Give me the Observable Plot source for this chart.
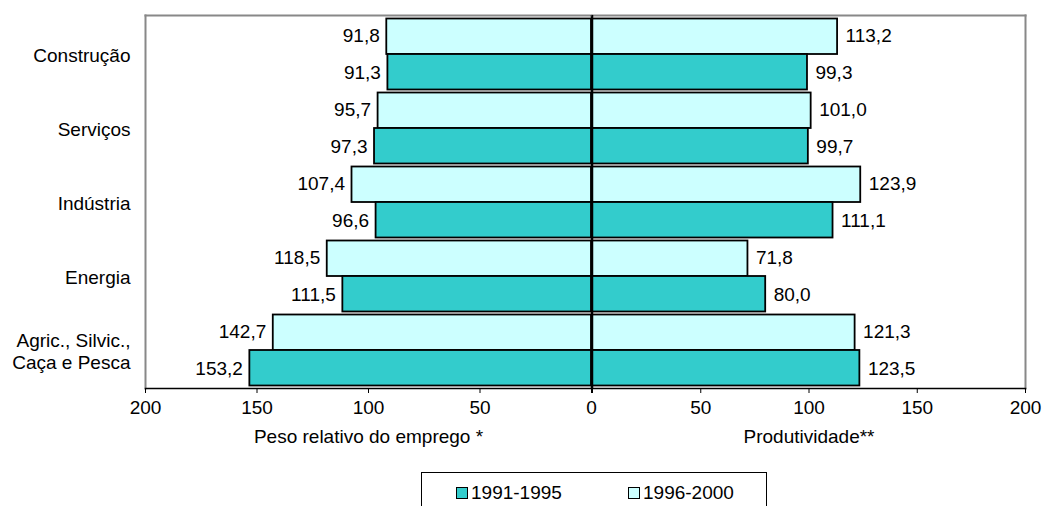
<!DOCTYPE html>
<html>
<head>
<meta charset="utf-8">
<script src="https://cdn.jsdelivr.net/npm/d3@7"></script>
<script src="https://cdn.jsdelivr.net/npm/@observablehq/plot@0.6"></script>
<style>
  body { margin: 0; background: #fff; font-family: "Liberation Sans", Arial, sans-serif; }
  #wrap { position: relative; width: 1042px; height: 506px; overflow: hidden; background: #fff; }
  #wrap svg { position: absolute; top: 0; overflow: visible; }
  .legend { position: absolute; left: 421px; top: 472px; width: 346px; height: 44px;
            border: 1px solid #000; box-sizing: border-box; font-size: 19px; color: #000; }
  .item { position: absolute; top: 9px; display: flex; align-items: center; }
  .sw { width: 10px; height: 10px; border: 1.5px solid #000; margin-right: 3px; }
</style>
</head>
<body>
<div id="wrap"></div>
<script>
const categories = ["Construção", "Serviços", "Indústria", "Energia", "Agric., Silvic.,\nCaça e Pesca"];
const emprego1991 = [91.3, 97.3, 96.6, 111.5, 153.2];
const emprego1996 = [91.8, 95.7, 107.4, 118.5, 142.7];
const prod1991 = [99.3, 99.7, 111.1, 80.0, 123.5];
const prod1996 = [113.2, 101.0, 123.9, 71.8, 121.3];
const xTicks = [0, 50, 100, 150, 200];
const colors = {"1991-1995": "#33CCCC", "1996-2000": "#CCFFFF"};

const rows = [];
categories.forEach((c, i) => {
  rows.push({cat: c, period: "1996-2000", key: c + "|1996-2000", emp: emprego1996[i], prod: prod1996[i]});
  rows.push({cat: c, period: "1991-1995", key: c + "|1991-1995", emp: emprego1991[i], prod: prod1991[i]});
});
const rowsNew = rows.filter(d => d.period === "1996-2000");
const rowsOld = rows.filter(d => d.period === "1991-1995");
const yDomain = rows.map(d => d.key);
const fmt = v => v.toFixed(1).replace(".", ",");

const H = 455, mTop = 15, mBottom = 67;
const halfBand = (H - mTop - mBottom) / yDomain.length / 2;
const style = {fontSize: "19px", fontFamily: "Liberation Sans, Arial, sans-serif", color: "#000", background: "none"};

const bars = (field) => [
  Plot.barX(rowsNew, {x1: 0, x2: field, y: "key", fill: d => colors[d.period], stroke: "#000", strokeWidth: 1.8, insetTop: 1.5}),
  Plot.barX(rowsOld, {x1: 0, x2: field, y: "key", fill: d => colors[d.period], stroke: "#000", strokeWidth: 1.8, insetBottom: 1.5})
];

const left = Plot.plot({
  width: 593, height: H, marginTop: mTop, marginBottom: mBottom, marginLeft: 145, marginRight: 2,
  style,
  x: {domain: [0, 200], reverse: true},
  y: {domain: yDomain, padding: 0, axis: null, label: null},
  marks: [
    Plot.frame({anchor: "left", stroke: "#888", strokeWidth: 2}),
    Plot.frame({anchor: "top", stroke: "#888", strokeWidth: 2}),
    ...bars("emp"),
    Plot.text(rows, {x: "emp", y: "key", text: d => fmt(d.emp), textAnchor: "end", dx: -7, fill: "#000"}),
    Plot.ruleX([0], {stroke: "#000", strokeWidth: 1.5}),
    Plot.frame({anchor: "bottom", stroke: "#000", strokeWidth: 1.5}),
    Plot.axisX({ticks: xTicks, tickFormat: d => d, tickSize: 5, tickPadding: 7, label: null}),
    Plot.axisY({ticks: categories.map(c => c + "|1996-2000"), tickFormat: d => d.split("|")[0],
      tickSize: 0, tickPadding: 15, dy: halfBand, lineHeight: 1.2, label: null}),
    Plot.text(["Peso relativo do emprego *"], {x: 100, frameAnchor: "bottom", dy: 54, text: d => d, fill: "#000"})
  ]
});
left.style.left = "0px";

const right = Plot.plot({
  width: 452, height: H, marginTop: mTop, marginBottom: mBottom, marginLeft: 2, marginRight: 17,
  style,
  x: {domain: [0, 200]},
  y: {domain: yDomain, padding: 0, axis: null, label: null},
  marks: [
    Plot.frame({anchor: "right", stroke: "#888", strokeWidth: 2}),
    Plot.frame({anchor: "top", stroke: "#888", strokeWidth: 2}),
    ...bars("prod"),
    Plot.text(rows, {x: "prod", y: "key", text: d => fmt(d.prod), textAnchor: "start", dx: 8, fill: "#000"}),
    Plot.ruleX([0], {stroke: "#000", strokeWidth: 1.5}),
    Plot.frame({anchor: "bottom", stroke: "#000", strokeWidth: 1.5}),
    Plot.axisX({ticks: xTicks, tickFormat: d => d === 0 ? "" : d, tickSize: 5, tickPadding: 7, label: null}),
    Plot.text(["Produtividade**"], {x: 100, frameAnchor: "bottom", dy: 54, text: d => d, fill: "#000"})
  ]
});
right.style.left = "590px";

const wrap = document.getElementById("wrap");
wrap.appendChild(left);
wrap.appendChild(right);

const legend = document.createElement("div");
legend.className = "legend";
const legendItems = [{label: "1991-1995", left: 34}, {label: "1996-2000", left: 206}];
legendItems.forEach(it => {
  const d = document.createElement("div");
  d.className = "item";
  d.style.left = it.left + "px";
  const sw = document.createElement("div");
  sw.className = "sw";
  sw.style.background = colors[it.label];
  const t = document.createElement("span");
  t.textContent = it.label;
  d.appendChild(sw); d.appendChild(t);
  legend.appendChild(d);
});
wrap.appendChild(legend);
</script>
</body>
</html>
